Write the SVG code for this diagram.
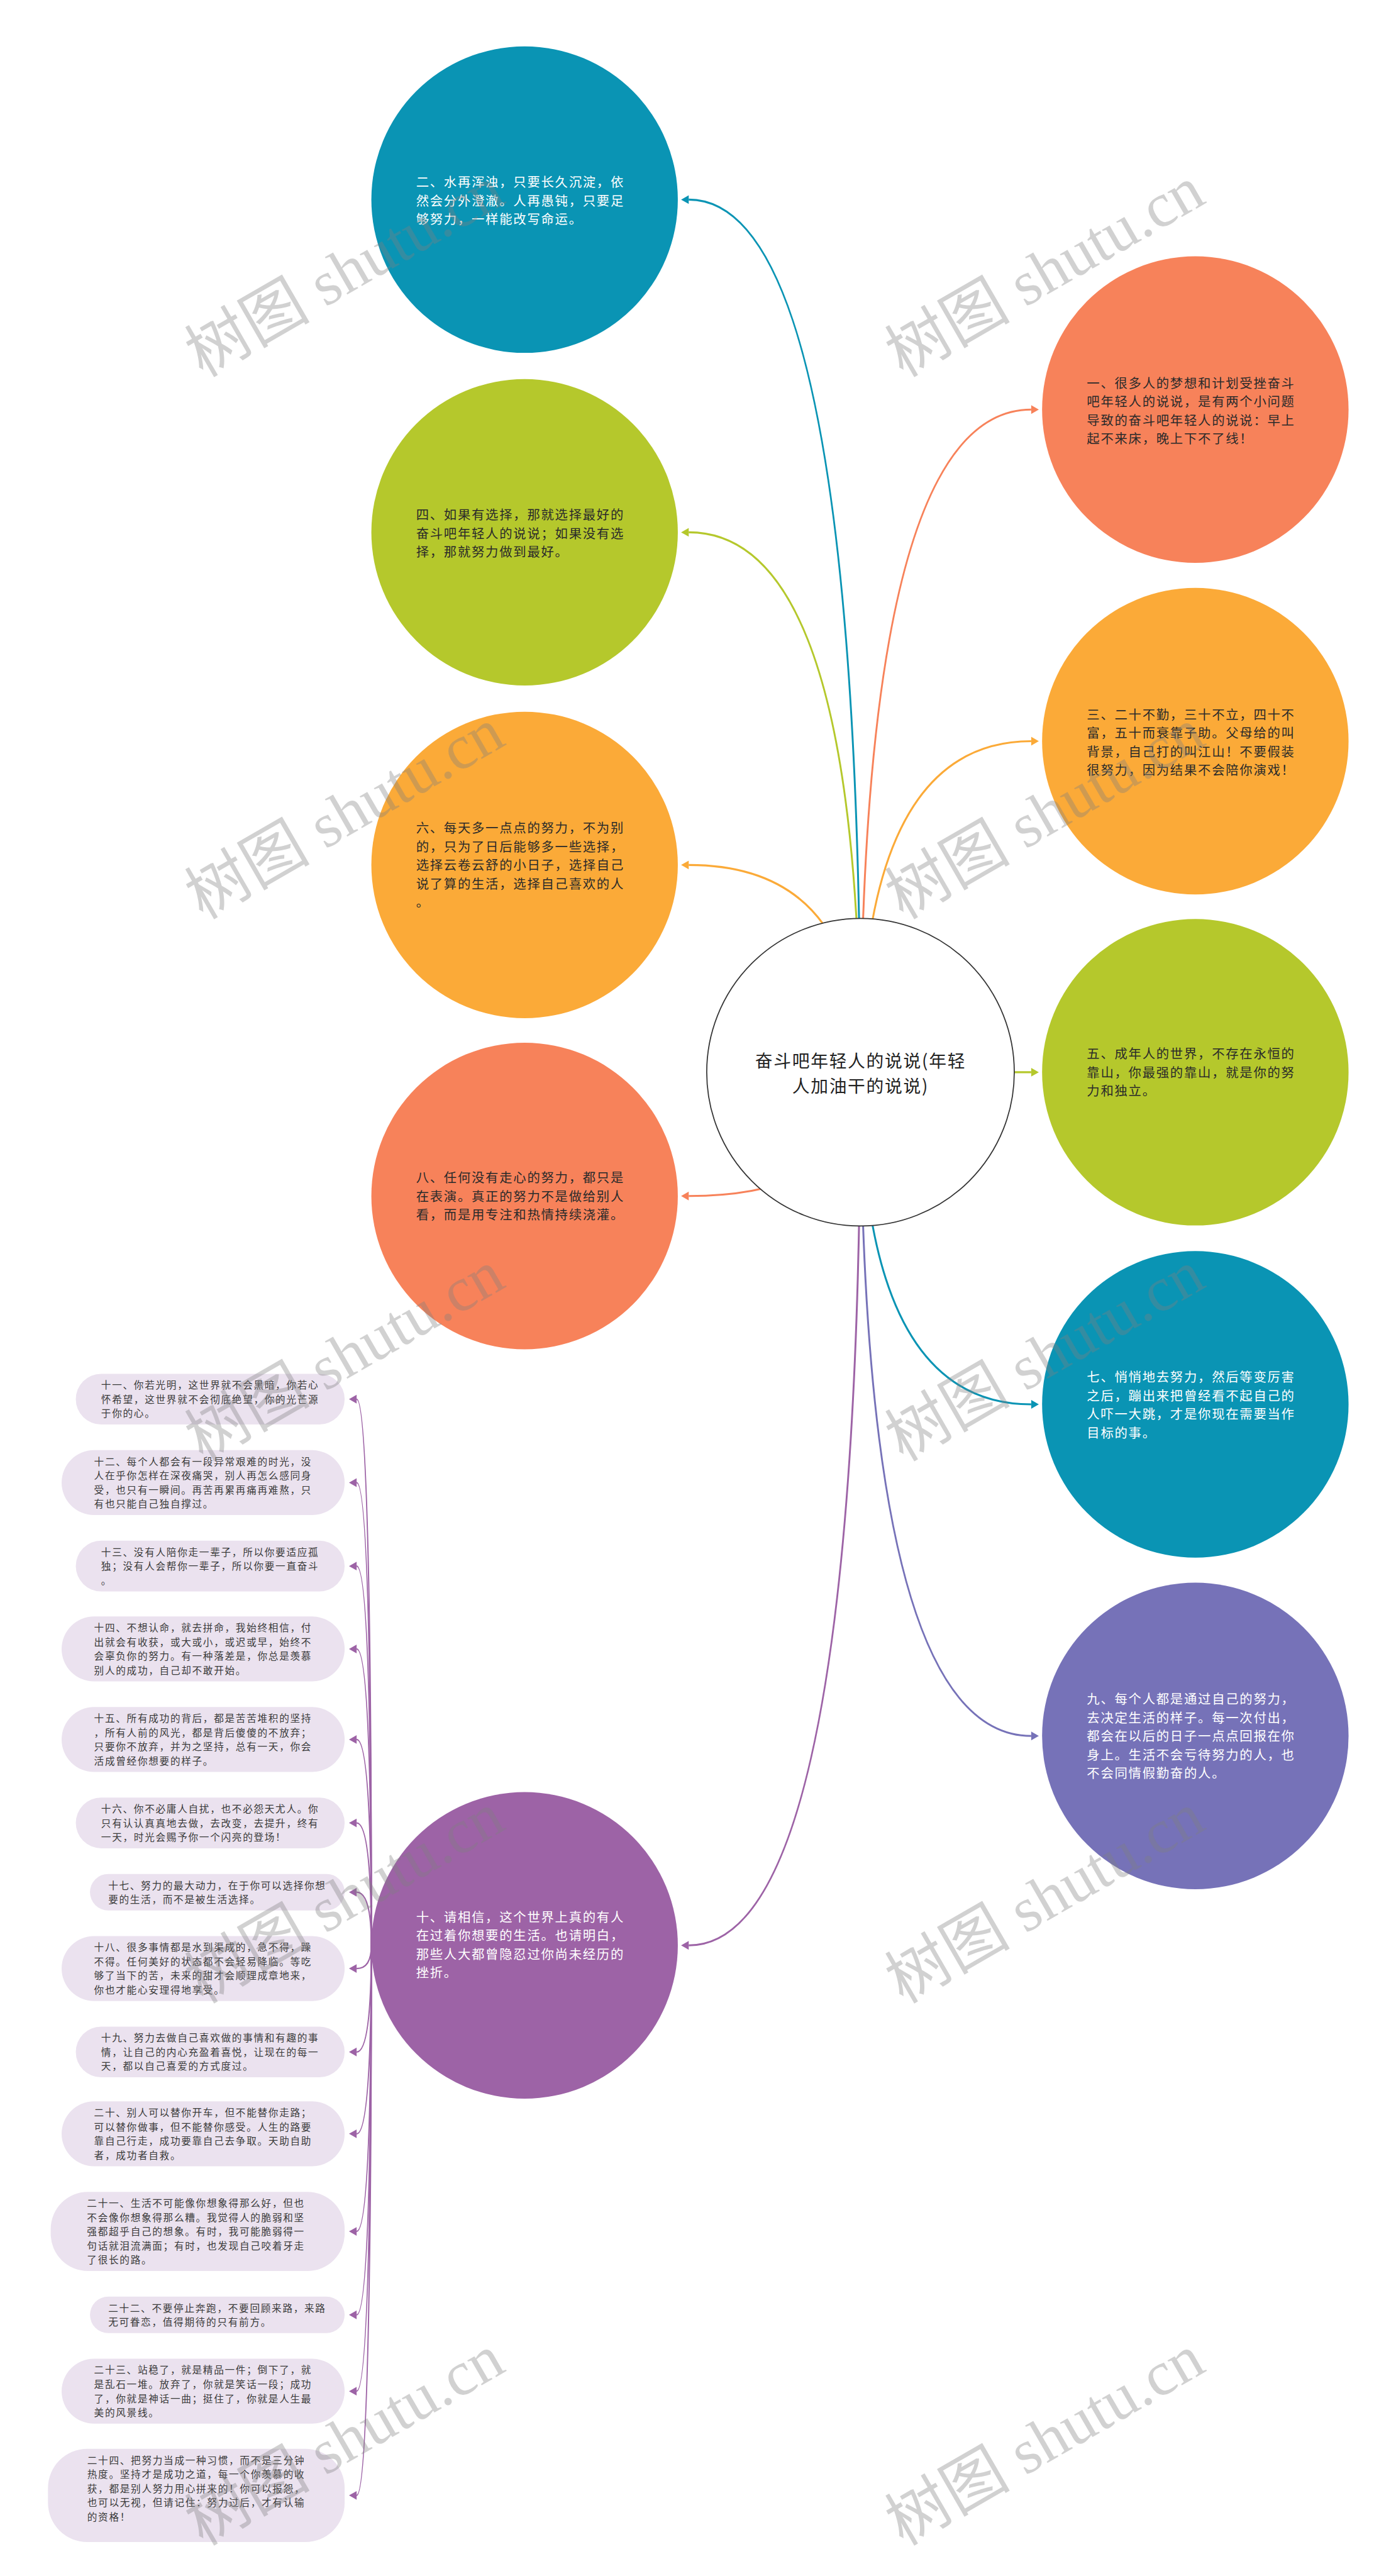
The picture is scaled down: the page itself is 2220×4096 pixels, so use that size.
<svg xmlns="http://www.w3.org/2000/svg" width="2220" height="4096" viewBox="0 0 2220 4096">
<defs>
<style>
.t{font-family:"Noto Sans CJK SC","Noto Sans",sans-serif;font-size:23.5px;letter-spacing:2px}
.w{fill:#ffffff}
.d{fill:#2a2a2a}
.rt{font-family:"Noto Sans CJK SC","Noto Sans",sans-serif;font-size:32px;letter-spacing:2px;fill:#222;text-anchor:middle}
.p{font-family:"Noto Sans CJK SC","Noto Sans",sans-serif;font-size:18px;letter-spacing:2px;fill:#3a3a3a}
.pill{fill:#ebe2ef}
.c{fill:none;stroke-width:3.5}
.s{fill:none;stroke:#9d63a6;stroke-width:2.5}
.wm{font-family:"Liberation Serif","Noto Sans CJK SC",serif;font-size:115px;fill:#7f7f7f;fill-opacity:0.36}
</style>
<marker id="aTeal" markerUnits="userSpaceOnUse" markerWidth="14" markerHeight="16" refX="0" refY="8" orient="auto" overflow="visible"><path d="M0,0L14,8L0,16z" fill="#0a94b4"/></marker>
<marker id="aCoral" markerUnits="userSpaceOnUse" markerWidth="14" markerHeight="16" refX="0" refY="8" orient="auto" overflow="visible"><path d="M0,0L14,8L0,16z" fill="#f7825a"/></marker>
<marker id="aGreen" markerUnits="userSpaceOnUse" markerWidth="14" markerHeight="16" refX="0" refY="8" orient="auto" overflow="visible"><path d="M0,0L14,8L0,16z" fill="#b5c82c"/></marker>
<marker id="aAmber" markerUnits="userSpaceOnUse" markerWidth="14" markerHeight="16" refX="0" refY="8" orient="auto" overflow="visible"><path d="M0,0L14,8L0,16z" fill="#fbaa38"/></marker>
<marker id="aSlate" markerUnits="userSpaceOnUse" markerWidth="14" markerHeight="16" refX="0" refY="8" orient="auto" overflow="visible"><path d="M0,0L14,8L0,16z" fill="#7672b8"/></marker>
<marker id="aPurple" markerUnits="userSpaceOnUse" markerWidth="14" markerHeight="16" refX="0" refY="8" orient="auto" overflow="visible"><path d="M0,0L14,8L0,16z" fill="#9d63a6"/></marker>
</defs>
<rect width="2220" height="4096" fill="#ffffff"/>
<g transform="scale(0.8671875)">
<g id="connectors">
<path class="c" stroke="#f7825a" marker-end="url(#aCoral)" d="M1578,1966 Q1578,751 1891,751"/>
<path class="c" stroke="#0a94b4" marker-end="url(#aTeal)" d="M1578,1966 Q1578,366 1263,366"/>
<path class="c" stroke="#fbaa38" marker-end="url(#aAmber)" d="M1578,1966 Q1578,1359 1891,1359"/>
<path class="c" stroke="#b5c82c" marker-end="url(#aGreen)" d="M1578,1966 Q1578,976 1263,976"/>
<path class="c" stroke="#b5c82c" marker-end="url(#aGreen)" d="M1578,1966 L1891,1966"/>
<path class="c" stroke="#fbaa38" marker-end="url(#aAmber)" d="M1578,1966 Q1578,1586 1263,1586"/>
<path class="c" stroke="#0a94b4" marker-end="url(#aTeal)" d="M1578,1966 Q1578,2575 1891,2575"/>
<path class="c" stroke="#f7825a" marker-end="url(#aCoral)" d="M1578,1966 Q1578,2193 1263,2193"/>
<path class="c" stroke="#7672b8" marker-end="url(#aSlate)" d="M1578,1966 Q1578,3183 1891,3183"/>
<path class="c" stroke="#9d63a6" marker-end="url(#aPurple)" d="M1578,1966 Q1578,3567 1263,3567"/>
<path class="s" marker-end="url(#aPurple)" d="M681,3567 Q681,2565.5 654,2565.5"/>
<path class="s" marker-end="url(#aPurple)" d="M681,3567 Q681,2718.5 654,2718.5"/>
<path class="s" marker-end="url(#aPurple)" d="M681,3567 Q681,2871.5 654,2871.5"/>
<path class="s" marker-end="url(#aPurple)" d="M681,3567 Q681,3023.5 654,3023.5"/>
<path class="s" marker-end="url(#aPurple)" d="M681,3567 Q681,3189.5 654,3189.5"/>
<path class="s" marker-end="url(#aPurple)" d="M681,3567 Q681,3342.5 654,3342.5"/>
<path class="s" marker-end="url(#aPurple)" d="M681,3567 Q681,3469.5 654,3469.5"/>
<path class="s" marker-end="url(#aPurple)" d="M681,3567 Q681,3609.5 654,3609.5"/>
<path class="s" marker-end="url(#aPurple)" d="M681,3567 Q681,3762.5 654,3762.5"/>
<path class="s" marker-end="url(#aPurple)" d="M681,3567 Q681,3912.5 654,3912.5"/>
<path class="s" marker-end="url(#aPurple)" d="M681,3567 Q681,4091.5 654,4091.5"/>
<path class="s" marker-end="url(#aPurple)" d="M681,3567 Q681,4244.5 654,4244.5"/>
<path class="s" marker-end="url(#aPurple)" d="M681,3567 Q681,4384.5 654,4384.5"/>
<path class="s" marker-end="url(#aPurple)" d="M681,3567 Q681,4575.5 654,4575.5"/>
</g>

<g id="n-root">
<circle cx="1578" cy="1966" r="282" fill="#ffffff" stroke="#333" stroke-width="2"/>
<text class="rt"><tspan x="1578" y="1957">奋斗吧年轻人的说说(年轻</tspan><tspan x="1578" y="2003">人加油干的说说)</tspan></text>
</g>

<g id="n1">
<circle cx="2192" cy="751" r="281" fill="#f7825a"/>
<text class="t d"><tspan x="1993" y="711">一、很多人的梦想和计划受挫奋斗</tspan><tspan x="1993" y="745">吧年轻人的说说，是有两个小问题</tspan><tspan x="1993" y="779">导致的奋斗吧年轻人的说说：早上</tspan><tspan x="1993" y="813">起不来床，晚上下不了线！</tspan></text>
</g>
<g id="n2">
<circle cx="962" cy="366" r="281" fill="#0a94b4"/>
<text class="t w"><tspan x="763" y="343">二、水再浑浊，只要长久沉淀，依</tspan><tspan x="763" y="377">然会分外澄澈。人再愚钝，只要足</tspan><tspan x="763" y="411">够努力，一样能改写命运。</tspan></text>
</g>
<g id="n3">
<circle cx="2192" cy="1359" r="281" fill="#fbaa38"/>
<text class="t d"><tspan x="1993" y="1319">三、二十不勤，三十不立，四十不</tspan><tspan x="1993" y="1353">富，五十而衰靠子助。父母给的叫</tspan><tspan x="1993" y="1387">背景，自己打的叫江山！不要假装</tspan><tspan x="1993" y="1421">很努力，因为结果不会陪你演戏！</tspan></text>
</g>
<g id="n4">
<circle cx="962" cy="976" r="281" fill="#b5c82c"/>
<text class="t d"><tspan x="763" y="953">四、如果有选择，那就选择最好的</tspan><tspan x="763" y="987">奋斗吧年轻人的说说；如果没有选</tspan><tspan x="763" y="1021">择，那就努力做到最好。</tspan></text>
</g>
<g id="n5">
<circle cx="2192" cy="1966" r="281" fill="#b5c82c"/>
<text class="t d"><tspan x="1993" y="1941">五、成年人的世界，不存在永恒的</tspan><tspan x="1993" y="1975">靠山，你最强的靠山，就是你的努</tspan><tspan x="1993" y="2009">力和独立。</tspan></text>
</g>
<g id="n6">
<circle cx="962" cy="1586" r="281" fill="#fbaa38"/>
<text class="t d"><tspan x="763" y="1527">六、每天多一点点的努力，不为别</tspan><tspan x="763" y="1561">的，只为了日后能够多一些选择，</tspan><tspan x="763" y="1595">选择云卷云舒的小日子，选择自己</tspan><tspan x="763" y="1629">说了算的生活，选择自己喜欢的人</tspan><tspan x="763" y="1663">。</tspan></text>
</g>
<g id="n7">
<circle cx="2192" cy="2575" r="281" fill="#0a94b4"/>
<text class="t w"><tspan x="1993" y="2534">七、悄悄地去努力，然后等变厉害</tspan><tspan x="1993" y="2568">之后，蹦出来把曾经看不起自己的</tspan><tspan x="1993" y="2602">人吓一大跳，才是你现在需要当作</tspan><tspan x="1993" y="2636">目标的事。</tspan></text>
</g>
<g id="n8">
<circle cx="962" cy="2193" r="281" fill="#f7825a"/>
<text class="t d"><tspan x="763" y="2168">八、任何没有走心的努力，都只是</tspan><tspan x="763" y="2202">在表演。真正的努力不是做给别人</tspan><tspan x="763" y="2236">看，而是用专注和热情持续浇灌。</tspan></text>
</g>
<g id="n9">
<circle cx="2192" cy="3183" r="281" fill="#7672b8"/>
<text class="t w"><tspan x="1993" y="3124">九、每个人都是通过自己的努力，</tspan><tspan x="1993" y="3158">去决定生活的样子。每一次付出，</tspan><tspan x="1993" y="3192">都会在以后的日子一点点回报在你</tspan><tspan x="1993" y="3226">身上。生活不会亏待努力的人，也</tspan><tspan x="1993" y="3260">不会同情假勤奋的人。</tspan></text>
</g>
<g id="n10">
<circle cx="962" cy="3567" r="281" fill="#9d63a6"/>
<text class="t w"><tspan x="763" y="3524">十、请相信，这个世界上真的有人</tspan><tspan x="763" y="3558">在过着你想要的生活。也请明白，</tspan><tspan x="763" y="3592">那些人大都曾隐忍过你尚未经历的</tspan><tspan x="763" y="3626">挫折。</tspan></text>
</g>

<g id="n11">
<rect class="pill" x="139" y="2519" width="493" height="93" rx="46.5"/>
<text class="p"><tspan x="185.5" y="2546.5">十一、你若光明，这世界就不会黑暗，你若心</tspan><tspan x="185.5" y="2572.5">怀希望，这世界就不会彻底绝望，你的光芒源</tspan><tspan x="185.5" y="2598.5">于你的心。</tspan></text>
</g>
<g id="n12">
<rect class="pill" x="113" y="2659" width="519" height="119" rx="59.5"/>
<text class="p"><tspan x="172.5" y="2686.5">十二、每个人都会有一段异常艰难的时光，没</tspan><tspan x="172.5" y="2712.5">人在乎你怎样在深夜痛哭，别人再怎么感同身</tspan><tspan x="172.5" y="2738.5">受，也只有一瞬间。再苦再累再痛再难熬，只</tspan><tspan x="172.5" y="2764.5">有也只能自己独自撑过。</tspan></text>
</g>
<g id="n13">
<rect class="pill" x="139" y="2825" width="493" height="93" rx="46.5"/>
<text class="p"><tspan x="185.5" y="2852.5">十三、没有人陪你走一辈子，所以你要适应孤</tspan><tspan x="185.5" y="2878.5">独；没有人会帮你一辈子，所以你要一直奋斗</tspan><tspan x="185.5" y="2904.5">。</tspan></text>
</g>
<g id="n14">
<rect class="pill" x="113" y="2964" width="519" height="119" rx="59.5"/>
<text class="p"><tspan x="172.5" y="2991.5">十四、不想认命，就去拼命，我始终相信，付</tspan><tspan x="172.5" y="3017.5">出就会有收获，或大或小，或迟或早，始终不</tspan><tspan x="172.5" y="3043.5">会辜负你的努力。有一种落差是，你总是羡慕</tspan><tspan x="172.5" y="3069.5">别人的成功，自己却不敢开始。</tspan></text>
</g>
<g id="n15">
<rect class="pill" x="113" y="3130" width="519" height="119" rx="59.5"/>
<text class="p"><tspan x="172.5" y="3157.5">十五、所有成功的背后，都是苦苦堆积的坚持</tspan><tspan x="172.5" y="3183.5">，所有人前的风光，都是背后傻傻的不放弃；</tspan><tspan x="172.5" y="3209.5">只要你不放弃，并为之坚持，总有一天，你会</tspan><tspan x="172.5" y="3235.5">活成曾经你想要的样子。</tspan></text>
</g>
<g id="n16">
<rect class="pill" x="139" y="3296" width="493" height="93" rx="46.5"/>
<text class="p"><tspan x="185.5" y="3323.5">十六、你不必庸人自扰，也不必怨天尤人。你</tspan><tspan x="185.5" y="3349.5">只有认认真真地去做，去改变，去提升，终有</tspan><tspan x="185.5" y="3375.5">一天，时光会赐予你一个闪亮的登场！</tspan></text>
</g>
<g id="n17">
<rect class="pill" x="165" y="3436" width="467" height="67" rx="33.5"/>
<text class="p"><tspan x="198.5" y="3463.5">十七、努力的最大动力，在于你可以选择你想</tspan><tspan x="198.5" y="3489.5">要的生活，而不是被生活选择。</tspan></text>
</g>
<g id="n18">
<rect class="pill" x="113" y="3550" width="519" height="119" rx="59.5"/>
<text class="p"><tspan x="172.5" y="3577.5">十八、很多事情都是水到渠成的，急不得，躁</tspan><tspan x="172.5" y="3603.5">不得。任何美好的状态都不会轻易降临。等吃</tspan><tspan x="172.5" y="3629.5">够了当下的苦，未来的甜才会顺理成章地来，</tspan><tspan x="172.5" y="3655.5">你也才能心安理得地享受。</tspan></text>
</g>
<g id="n19">
<rect class="pill" x="139" y="3716" width="493" height="93" rx="46.5"/>
<text class="p"><tspan x="185.5" y="3743.5">十九、努力去做自己喜欢做的事情和有趣的事</tspan><tspan x="185.5" y="3769.5">情，让自己的内心充盈着喜悦，让现在的每一</tspan><tspan x="185.5" y="3795.5">天，都以自己喜爱的方式度过。</tspan></text>
</g>
<g id="n20">
<rect class="pill" x="113" y="3853" width="519" height="119" rx="59.5"/>
<text class="p"><tspan x="172.5" y="3880.5">二十、别人可以替你开车，但不能替你走路；</tspan><tspan x="172.5" y="3906.5">可以替你做事，但不能替你感受。人生的路要</tspan><tspan x="172.5" y="3932.5">靠自己行走，成功要靠自己去争取。天助自助</tspan><tspan x="172.5" y="3958.5">者，成功者自救。</tspan></text>
</g>
<g id="n21">
<rect class="pill" x="93" y="4019" width="539" height="145" rx="68"/>
<text class="p"><tspan x="159.5" y="4046.5">二十一、生活不可能像你想象得那么好，但也</tspan><tspan x="159.5" y="4072.5">不会像你想象得那么糟。我觉得人的脆弱和坚</tspan><tspan x="159.5" y="4098.5">强都超乎自己的想象。有时，我可能脆弱得一</tspan><tspan x="159.5" y="4124.5">句话就泪流满面；有时，也发现自己咬着牙走</tspan><tspan x="159.5" y="4150.5">了很长的路。</tspan></text>
</g>
<g id="n22">
<rect class="pill" x="165" y="4211" width="467" height="67" rx="33.5"/>
<text class="p"><tspan x="198.5" y="4238.5">二十二、不要停止奔跑，不要回顾来路，来路</tspan><tspan x="198.5" y="4264.5">无可眷恋，值得期待的只有前方。</tspan></text>
</g>
<g id="n23">
<rect class="pill" x="113" y="4325" width="519" height="119" rx="59.5"/>
<text class="p"><tspan x="172.5" y="4352.5">二十三、站稳了，就是精品一件；倒下了，就</tspan><tspan x="172.5" y="4378.5">是乱石一堆。放弃了，你就是笑话一段；成功</tspan><tspan x="172.5" y="4404.5">了，你就是神话一曲；挺住了，你就是人生最</tspan><tspan x="172.5" y="4430.5">美的风景线。</tspan></text>
</g>
<g id="n24">
<rect class="pill" x="88" y="4490" width="544" height="171" rx="72"/>
<text class="p"><tspan x="160" y="4517.5">二十四、把努力当成一种习惯，而不是三分钟</tspan><tspan x="160" y="4543.5">热度。坚持才是成功之道，每一个你羡慕的收</tspan><tspan x="160" y="4569.5">获，都是别人努力用心拼来的！你可以报怨，</tspan><tspan x="160" y="4595.5">也可以无视，但请记住：努力过后，才有认输</tspan><tspan x="160" y="4621.5">的资格！</tspan></text>
</g>

<g id="watermarks">
<text class="wm" transform="translate(372,693) rotate(-30)">树图 shutu.cn</text>
<text class="wm" transform="translate(1656,693) rotate(-30)">树图 shutu.cn</text>
<text class="wm" transform="translate(372,1687) rotate(-30)">树图 shutu.cn</text>
<text class="wm" transform="translate(1656,1687) rotate(-30)">树图 shutu.cn</text>
<text class="wm" transform="translate(372,2681) rotate(-30)">树图 shutu.cn</text>
<text class="wm" transform="translate(1656,2681) rotate(-30)">树图 shutu.cn</text>
<text class="wm" transform="translate(372,3675) rotate(-30)">树图 shutu.cn</text>
<text class="wm" transform="translate(1656,3675) rotate(-30)">树图 shutu.cn</text>
<text class="wm" transform="translate(372,4669) rotate(-30)">树图 shutu.cn</text>
<text class="wm" transform="translate(1656,4669) rotate(-30)">树图 shutu.cn</text>
</g>
</g>
</svg>
